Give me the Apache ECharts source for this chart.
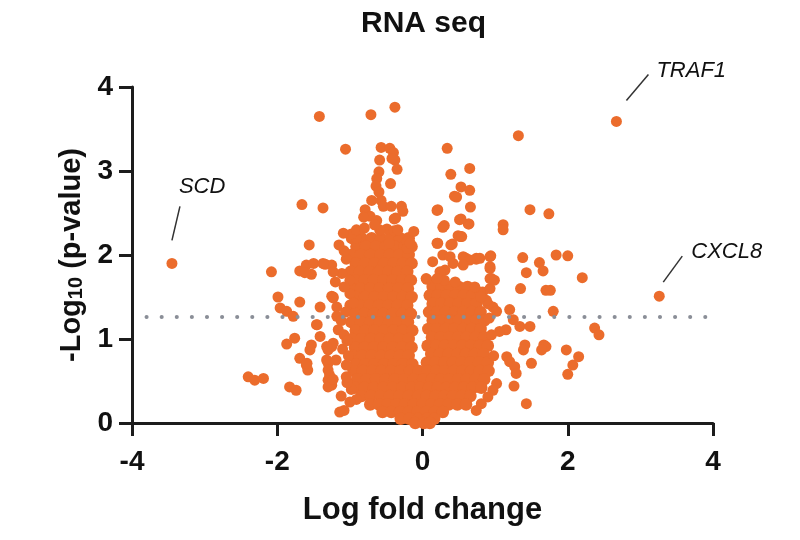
<!DOCTYPE html>
<html>
<head>
<meta charset="utf-8">
<script src="https://cdn.jsdelivr.net/npm/echarts@6.0.0/dist/echarts.min.js"></script>
<style>
  html, body { margin: 0; padding: 0; background: #fff; }
  #chart { width: 800px; height: 540px; }
</style>
</head>
<body>
<div id="chart"></div>
<script>
// labelled genes (log fold change, -log10 p)
const geneNames = ['SCD', 'TRAF1', 'CXCL8'];
const geneFC = [-3.45, 2.67, 3.26];
const geneP = [1.90, 3.59, 1.51];

const xTicks = [-4, -2, 0, 2, 4];
const yTicks = [0, 1, 2, 3, 4];
const cutoff = 1.27;               // dotted significance line
const cutoffSpan = [-3.8, 3.92];

// loose points around the cloud, [logFC, -log10 p]
const loosePoints = [
  [-1.42,3.65],[-0.71,3.67],[-0.38,3.76],[-1.06,3.26],[1.32,3.42],
  [-0.57,3.28],[-0.45,3.27],[-0.40,3.22],[-0.38,3.13],[-0.35,3.02],[-0.59,3.13],[-0.60,2.99],
  [-0.63,2.91],[-0.44,2.85],[-0.64,2.82],[-0.60,2.75],[-0.70,2.65],[-0.57,2.65],[-0.54,2.58],
  [-0.43,2.58],[-0.29,2.58],[-0.27,2.52],[-0.79,2.54],[-0.72,2.46],[-0.37,2.44],[-0.42,3.15],
  [-0.81,2.45],[-0.63,2.41],[-0.39,2.43],[-0.49,2.31],[-0.39,2.29],[-0.21,2.16],[-0.46,2.14],
  [-0.91,2.20],[-0.98,2.25],[-0.21,2.08],[-1.09,2.26],[-0.91,2.30],[-0.59,2.30],[-0.34,2.30],[-0.17,2.14],
  [-1.66,2.60],[-1.37,2.56],[-1.56,2.12],
  [-2.08,1.80],[-1.69,1.81],[-1.60,1.88],[-1.50,1.90],[-1.53,1.77],[-1.34,1.89],[-1.25,1.88],[-1.11,1.78],
  [-1.37,1.90],[-1.23,1.80],[-1.62,1.79],[-1.23,1.49],
  [-1.99,1.50],[-1.96,1.37],[-1.87,1.33],[-1.78,1.27],[-1.69,1.44],[-1.41,1.38],[-1.25,1.51],
  [-1.46,1.17],[-1.41,1.03],[-1.76,1.01],[-1.87,0.94],[-1.53,0.93],[-1.55,0.87],[-1.69,0.77],
  [-1.60,0.69],[-1.58,0.63],[-1.45,1.17],[-1.25,0.91],[-1.59,0.71],[-1.30,0.71],[-1.28,0.57],[-1.25,0.45],
  [-2.40,0.55],[-2.31,0.51],[-2.19,0.53],[-1.83,0.43],[-1.74,0.39],[-1.14,0.13],[-1.08,0.15],
  [-1.30,0.87],[-1.32,0.75],[-1.30,0.63],[-1.30,0.51],[-1.30,0.43],[-1.23,0.95],[-1.16,1.11],[-1.19,0.75],
  [-1.18,1.38],[-1.23,1.50],[-1.18,1.27],[-1.00,1.70],[-1.00,1.54],[-0.95,1.43],
  [-1.32,0.91],[-1.23,0.52],[-1.05,0.69],[-0.98,0.40],[-0.91,0.28],[-1.04,0.48],
  [-1.12,1.22],[-1.08,1.05],[-1.10,0.88],[-1.05,0.55],[-1.12,0.32],[-1.00,0.25],
  [-1.05,1.95],[-1.08,2.05],[-1.15,2.12],[-1.20,1.68],
  [0.34,3.27],[0.39,2.96],[0.65,3.03],[0.53,2.81],[0.65,2.77],[0.44,2.70],[0.47,2.69],[0.66,2.57],
  [0.21,2.54],[0.51,2.42],[0.64,2.37],[0.30,2.35],[0.52,2.22],[0.21,2.14],[0.41,2.13],[0.94,1.99],
  [0.28,2.00],[0.56,1.98],[0.39,2.12],[0.20,2.14],[0.14,1.92],[0.06,1.71],[0.74,1.96],
  [0.49,2.23],[0.63,2.37],[0.20,2.53],[0.53,2.43],[0.28,2.33],
  [1.48,2.54],[1.74,2.49],[1.11,2.36],[1.11,2.30],[0.54,2.22],
  [0.60,1.96],[0.74,1.95],[0.93,1.98],[0.93,1.86],[1.38,1.97],[1.43,1.79],[1.61,1.91],[1.66,1.81],
  [1.84,2.00],[2.00,1.99],[2.20,1.73],[1.35,1.60],[1.70,1.58],[1.76,1.58],[0.95,1.72],[0.93,1.60],
  [0.83,1.56],[0.97,1.38],[1.02,1.33],[1.20,1.35],[1.25,1.23],[1.80,1.33],[2.37,1.13],[2.43,1.05],
  [1.34,1.15],[1.48,1.15],[1.41,0.93],[1.39,0.87],[1.67,0.93],[1.70,0.91],[1.64,0.87],[1.98,0.87],
  [2.15,0.79],[2.07,0.69],[2.00,0.58],[1.50,0.71],[1.26,0.44],[1.43,0.23],[1.16,0.79],[1.20,0.73],
  [1.27,0.67],[1.29,0.59],[1.15,1.11],[1.06,1.09],[0.90,1.42],[0.88,1.46],[0.79,1.56],
  [1.02,0.47],[0.97,0.39],[0.90,0.31],[0.81,0.23],[0.74,0.15],
  [0.93,1.72],[0.99,1.70],[0.93,1.84],[0.79,1.96],[0.65,1.94],[0.56,1.88],[0.42,1.90],[0.38,1.98],
  [0.31,1.82],[0.24,1.80],[0.05,1.72],
  [0.92,1.25],[0.95,1.05],[0.98,0.80],[0.80,1.50],[0.72,1.62],[0.30,1.70],[0.45,1.68],[0.20,1.72],
  [-0.12,2.28],[-0.80,2.32],[-0.66,2.36],[-1.08,1.62],[-1.06,1.32],[-1.04,0.98],[-1.02,0.80]
];

// dense left lobe: each row is [-log10 p, logFC values]
const leftLobeRows = [
  [2.20, [-0.97,-0.84,-0.70,-0.57,-0.44,-0.31,-0.19]],
  [2.10, [-0.91,-0.78,-0.64,-0.51,-0.38,-0.25,-0.15]],
  [2.00, [-0.98,-0.85,-0.72,-0.58,-0.45,-0.32,-0.19]],
  [1.90, [-0.92,-0.79,-0.66,-0.53,-0.40,-0.27,-0.15]],
  [1.80, [-0.99,-0.86,-0.73,-0.60,-0.47,-0.34,-0.21]],
  [1.70, [-0.93,-0.80,-0.67,-0.54,-0.41,-0.28,-0.16]],
  [1.60, [-0.98,-0.85,-0.72,-0.59,-0.46,-0.33,-0.20]],
  [1.50, [-0.92,-0.79,-0.66,-0.53,-0.40,-0.27,-0.15]],
  [1.40, [-0.99,-0.86,-0.73,-0.60,-0.47,-0.34,-0.21]],
  [1.30, [-0.93,-0.80,-0.67,-0.54,-0.41,-0.28,-0.16]],
  [1.20, [-0.98,-0.85,-0.72,-0.59,-0.46,-0.33,-0.20]],
  [1.10, [-0.92,-0.79,-0.66,-0.53,-0.40,-0.27,-0.14]],
  [1.00, [-0.97,-0.84,-0.71,-0.58,-0.45,-0.32,-0.19]],
  [0.90, [-0.93,-0.80,-0.67,-0.54,-0.41,-0.28,-0.15]],
  [0.80, [-0.96,-0.83,-0.70,-0.57,-0.44,-0.31,-0.19]],
  [0.70, [-0.92,-0.79,-0.66,-0.53,-0.40,-0.27,-0.14]]
];

// dense right lobe
const rightLobeRows = [
  [1.62, [0.14,0.26,0.38,0.50,0.62]],
  [1.52, [0.10,0.21,0.33,0.45,0.57,0.69]],
  [1.42, [0.14,0.26,0.38,0.50,0.62,0.74]],
  [1.32, [0.09,0.20,0.32,0.44,0.56,0.68,0.80]],
  [1.22, [0.14,0.26,0.38,0.50,0.62,0.74,0.85]],
  [1.12, [0.08,0.20,0.32,0.44,0.56,0.68,0.80]],
  [1.02, [0.13,0.25,0.37,0.49,0.61,0.73,0.85]],
  [0.92, [0.07,0.19,0.31,0.43,0.55,0.67,0.79,0.90]],
  [0.82, [0.12,0.24,0.36,0.48,0.60,0.72,0.84]],
  [0.72, [0.06,0.18,0.30,0.42,0.54,0.66,0.78,0.90]]
];

// bottom of the cloud where both lobes merge
const baseRows = [
  [0.62, [-0.95,-0.82,-0.69,-0.56,-0.43,-0.30,-0.17,-0.05,0.07,0.19,0.31,0.43,0.55,0.67,0.79,0.91]],
  [0.52, [-0.90,-0.77,-0.64,-0.51,-0.38,-0.25,-0.12,0.01,0.13,0.25,0.37,0.49,0.61,0.73,0.85]],
  [0.42, [-0.93,-0.80,-0.67,-0.54,-0.41,-0.28,-0.15,-0.03,0.09,0.21,0.33,0.45,0.57,0.69,0.81]],
  [0.32, [-0.84,-0.71,-0.58,-0.45,-0.32,-0.19,-0.06,0.06,0.18,0.30,0.42,0.54,0.66]],
  [0.22, [-0.72,-0.60,-0.48,-0.36,-0.24,-0.12,0.00,0.12,0.24,0.36,0.48,0.60]],
  [0.13, [-0.55,-0.43,-0.31,-0.19,-0.07,0.05,0.17,0.28]],
  [0.05, [-0.30,-0.18,-0.06,0.06,0.16]],
  [0.00, [-0.10,0.02,0.10]]
];

function rowsToPoints(rows) {
  const out = [];
  rows.forEach(r => r[1].forEach(x => out.push([x, r[0]])));
  return out;
}

const corePoints = rowsToPoints(leftLobeRows)
  .concat(rowsToPoints(rightLobeRows))
  .concat(rowsToPoints(baseRows));
const outerPoints = loosePoints.concat(geneFC.map((x, i) => [x, geneP[i]]));

const ORANGE = '#EB6C2C';
const FONT = '"Liberation Sans", Arial, Helvetica, sans-serif';

const chart = echarts.init(document.getElementById('chart'));

chart.setOption({
  animation: false,
  backgroundColor: '#fff',
  title: {
    text: 'RNA seq',
    left: 356,
    top: 4,
    textStyle: { fontFamily: FONT, fontSize: 30, fontWeight: 'bold', color: '#111' }
  },
  grid: { left: 132, right: 87, top: 87, bottom: 117 },
  xAxis: {
    type: 'value',
    min: xTicks[0],
    max: xTicks[xTicks.length - 1],
    interval: 2,
    splitLine: { show: false },
    axisLine: { onZero: false, lineStyle: { color: '#1c1c1c', width: 3 } },
    axisTick: { length: 13, lineStyle: { color: '#1c1c1c', width: 3 } },
    axisLabel: { margin: 25, fontFamily: FONT, fontSize: 28, fontWeight: 'bold', color: '#111' },
    name: 'Log fold change',
    nameLocation: 'middle',
    nameGap: 72,
    nameTextStyle: { fontFamily: FONT, fontSize: 31, fontWeight: 'bold', color: '#111' }
  },
  yAxis: {
    type: 'value',
    min: yTicks[0],
    max: yTicks[yTicks.length - 1],
    interval: 1,
    splitLine: { show: false },
    axisLine: { onZero: false, lineStyle: { color: '#1c1c1c', width: 3 } },
    axisTick: { length: 13, lineStyle: { color: '#1c1c1c', width: 3 } },
    axisLabel: { margin: 19, fontFamily: FONT, fontSize: 28, fontWeight: 'bold', color: '#111' },
    name: '-Log{sub|10} (p-value)',
    nameLocation: 'middle',
    nameGap: 46,
    nameTextStyle: {
      fontFamily: FONT, fontSize: 29, fontWeight: 'bold', color: '#111',
      rich: {
        sub: { fontFamily: FONT, fontSize: 20, fontWeight: 'bold', color: '#111', verticalAlign: 'bottom', lineHeight: 18 }
      }
    }
  },
  series: [
    {
      type: 'scatter',
      data: [],
      z: 1,
      markLine: {
        silent: true,
        symbol: 'none',
        label: { show: false },
        lineStyle: { color: '#8a8e97', width: 4, type: [0.1, 15], cap: 'round' },
        data: [[{ coord: [cutoffSpan[0], cutoff] }, { coord: [cutoffSpan[1], cutoff] }]]
      }
    },
    {
      type: 'scatter',
      z: 3,
      symbolSize: 12.5,
      itemStyle: { color: ORANGE, opacity: 1 },
      data: corePoints
    },
    {
      type: 'scatter',
      z: 3,
      symbolSize: 11,
      itemStyle: { color: ORANGE, opacity: 1 },
      data: outerPoints
    }
  ]
});

// gene labels with short leader lines, placed from the data position
const labelOffsets = {
  SCD:   { line: [0, -23, 8, -57],   text: [7, -77] },
  TRAF1: { line: [10, -21, 32, -47], text: [40, -51] },
  CXCL8: { line: [4, -14, 23, -40],  text: [32, -44] }
};
const graphics = [];
geneNames.forEach((g, i) => {
  const p = chart.convertToPixel({ gridIndex: 0 }, [geneFC[i], geneP[i]]);
  const o = labelOffsets[g];
  graphics.push({
    type: 'line',
    shape: { x1: p[0] + o.line[0], y1: p[1] + o.line[1], x2: p[0] + o.line[2], y2: p[1] + o.line[3] },
    style: { stroke: '#333', lineWidth: 1.5 },
    z: 10
  });
  graphics.push({
    type: 'text',
    x: p[0] + o.text[0],
    y: p[1] + o.text[1],
    style: {
      text: g, fill: '#111', font: 'italic 22px ' + FONT,
      textAlign: 'left', textVerticalAlign: 'middle'
    },
    z: 10
  });
});
chart.setOption({ graphic: graphics });
</script>
</body>
</html>
